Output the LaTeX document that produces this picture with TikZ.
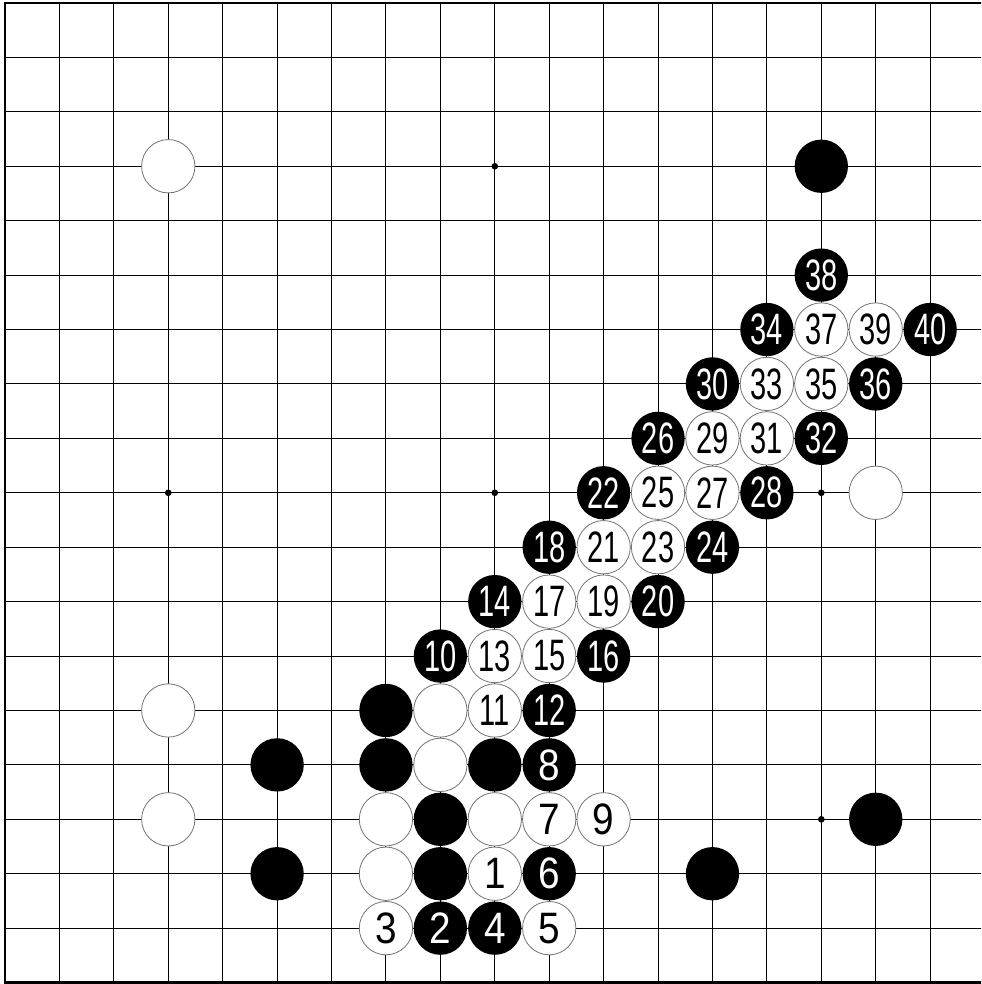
\documentclass[tikz,border=0pt]{standalone}
\usepackage{graphicx}
\usepackage{fontspec}
\setmainfont{Liberation Sans}
\newcommand{\stonetxt}[1]{\ifnum#1>9 \scalebox{0.66}[1]{#1}\else\scalebox{0.88}[1]{#1}\fi}
\begin{document}
\begin{tikzpicture}[x=0.75pt,y=-0.75pt,
  stonebase/.style={circle,minimum size=40pt,inner sep=0pt,font=\fontsize{33}{33}\selectfont},
  wstone/.style={stonebase,fill=white,draw=black!55,line width=0.6pt},
  bstone/.style={stonebase,fill=black,text=white},
  gridline/.style={line width=0.8pt},
  edgeline/.style={line width=2pt},
  starpt/.style={circle,fill=black,minimum size=5pt,inner sep=0pt}]
\useasboundingbox (0,0) rectangle (981,984);
\clip (0,0) rectangle (981,984);
\foreach \i in {1,...,17} {
  \draw[gridline] (5,{3+54.42*\i}) -- (984.6,{3+54.42*\i});
  \draw[gridline] ({5+54.42*\i},3) -- ({5+54.42*\i},982.6);
}
\draw[edgeline] (984.6,3) -- (5,3) -- (5,982.6) -- (984.6,982.6) -- cycle;
% star points
\foreach \c/\r [count=\k] in {3/3,9/3,15/3,3/9,9/9,15/9,3/15,9/15,15/15}
  \node[starpt] (star\k) at ({5+54.42*\c},{3+54.42*\r}) {};
% unnumbered white stones
\foreach \c/\r [count=\k] in {3/3,3/13,3/15,16/9,8/13,8/14,7/15,7/16,9/15}
  \node[wstone] (wu\k) at ({5+54.42*\c},{3+54.42*\r}) {};
% unnumbered black stones
\foreach \c/\r [count=\k] in {15/3,7/13,5/14,7/14,9/14,5/16,8/15,8/16,13/16,16/15}
  \node[bstone] (bu\k) at ({5+54.42*\c},{3+54.42*\r}) {};
% numbered white stones
\foreach \c/\r/\t in {9/16/1,7/17/3,10/17/5,10/15/7,11/15/9,9/13/11,9/12/13,10/12/15,
  10/11/17,11/11/19,11/10/21,12/10/23,12/9/25,13/9/27,13/8/29,14/8/31,14/7/33,15/7/35,15/6/37,16/6/39}
  \node[wstone] (w\t) at ({5+54.42*\c},{3+54.42*\r}) {\stonetxt{\t}};
% numbered black stones
\foreach \c/\r/\t in {8/17/2,9/17/4,10/16/6,10/14/8,8/12/10,10/13/12,9/11/14,11/12/16,
  10/10/18,12/11/20,11/9/22,13/10/24,12/8/26,14/9/28,13/7/30,15/8/32,14/6/34,16/7/36,15/5/38,17/6/40}
  \node[bstone] (b\t) at ({5+54.42*\c},{3+54.42*\r}) {\stonetxt{\t}};
\end{tikzpicture}
\end{document}
